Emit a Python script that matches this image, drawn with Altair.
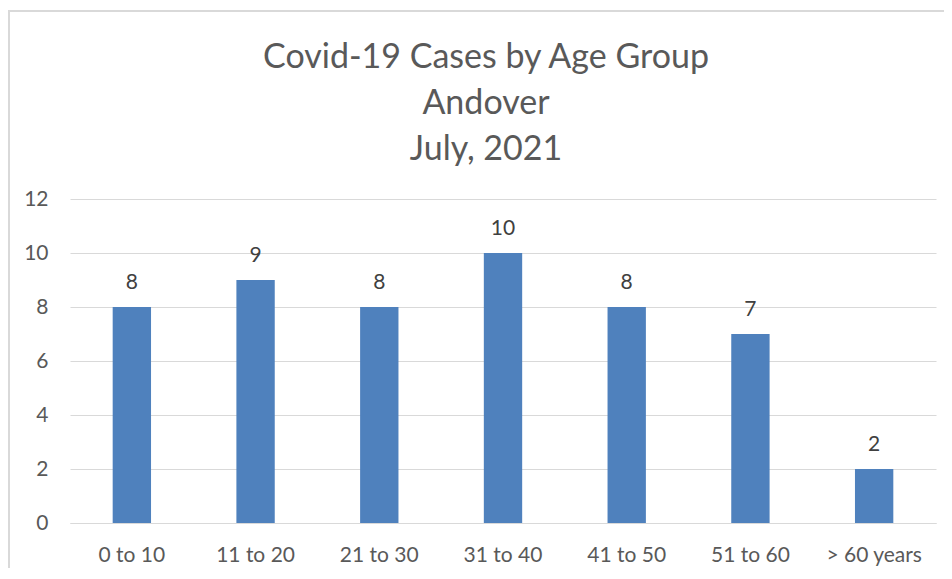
import altair as alt
import pandas as pd

categories = ["0 to 10", "11 to 20", "21 to 30", "31 to 40", "41 to 50", "51 to 60", "> 60 years"]
cases = [8, 9, 8, 10, 8, 7, 2]
title_lines = ["Covid-19 Cases by Age Group", "Andover", "July, 2021"]

df = pd.DataFrame({"age": categories, "cases": cases})

FONT = "Lato"
x = alt.X("age:N", sort=categories, title=None,
          scale=alt.Scale(paddingInner=0.69, paddingOuter=0.345, round=False),
          axis=alt.Axis(labelAngle=0, labelFontSize=21, labelColor="#595959", labelFont=FONT,
                        labelPadding=21, ticks=False, domainColor="#D9D9D9", grid=False))
y = alt.Y("cases:Q", title=None,
          scale=alt.Scale(domain=[0, 12]),
          axis=alt.Axis(values=[0, 2, 4, 6, 8, 10, 12], labelFontSize=21, labelColor="#595959",
                        labelFont=FONT, labelPadding=22, ticks=False, domain=False,
                        gridColor="#D9D9D9", gridWidth=1))

bars = alt.Chart(df).mark_bar(color="#4F81BD").encode(x=x, y=y)
labels = alt.Chart(df).mark_text(dy=-14, fontSize=21, color="#404040", font=FONT,
                                 baseline="bottom").encode(x=alt.X("age:N", sort=categories),
                                                           y="cases:Q", text="cases:Q")
border = alt.Chart(df).mark_rect(fill=None, stroke="#D9D9D9", strokeWidth=1.5).encode(
    x=alt.value(-61), x2=alt.value(900), y=alt.value(-188), y2=alt.value(500))

chart = alt.layer(border, bars, labels).properties(
    width=866, height=324,
    title=alt.Title(title_lines, fontSize=34, color="#595959", font=FONT, fontWeight="normal",
                    anchor="middle", lineHeight=46, dx=-17, dy=157, offset=0),
    padding={"left": 62, "top": 191, "right": 8, "bottom": 45},
    autosize=alt.AutoSizeParams(type="none"),
).configure_view(stroke=None)

chart.save("out.html", embed_options={"renderer": "svg", "actions": False})
